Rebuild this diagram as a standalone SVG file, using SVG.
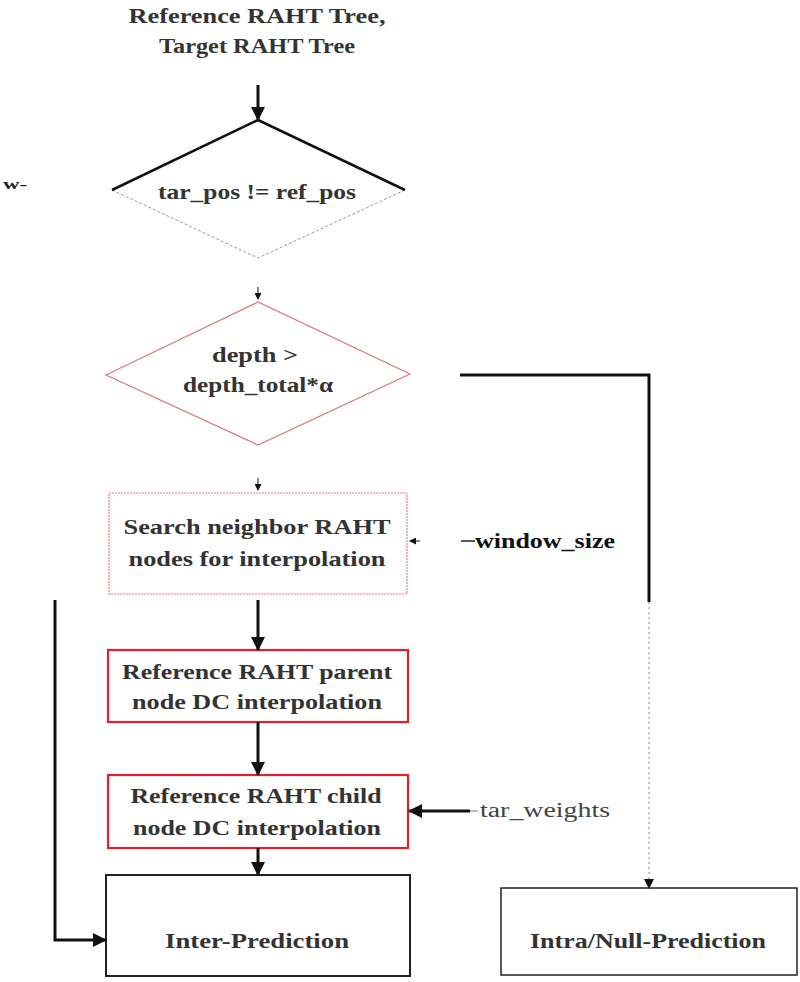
<svg xmlns="http://www.w3.org/2000/svg" width="800" height="982" viewBox="0 0 800 982">
<style>
.t{font-family:"Liberation Serif","Times New Roman",serif;font-weight:bold;font-size:21px;fill:#333;text-anchor:middle}
.thin{font-family:"Liberation Serif","Times New Roman",serif;font-size:20px;fill:#444}
.k{stroke:#111;stroke-width:3;fill:none}
.box{fill:#fff}
</style>
<defs>
<marker id="ah" markerWidth="10" markerHeight="10" refX="9" refY="5" orient="auto" markerUnits="userSpaceOnUse"><path d="M0,0 L10,5 L0,10 Z" fill="#111"/></marker>
<marker id="ahs" markerWidth="7" markerHeight="7" refX="6" refY="3.5" orient="auto" markerUnits="userSpaceOnUse"><path d="M0,0 L7,3.5 L0,7 Z" fill="#111"/></marker>
<marker id="ahb" markerWidth="14" markerHeight="14" refX="13" refY="7" orient="auto" markerUnits="userSpaceOnUse"><path d="M0,0 L14,7 L0,14 Z" fill="#111"/></marker>
</defs>
<rect width="800" height="982" fill="#fff"/>

<g id="title">
<text class="t" x="257" y="23" textLength="257" lengthAdjust="spacingAndGlyphs">Reference RAHT Tree,</text>
<text class="t" x="257" y="53" textLength="196" lengthAdjust="spacingAndGlyphs">Target RAHT Tree</text>
</g>

<g id="stray"><text x="3" y="189" font-family="Liberation Serif,serif" font-weight="bold" font-size="15" fill="#222" textLength="24" lengthAdjust="spacingAndGlyphs">w-</text></g>

<g id="cond1">
<path d="M112,190 L258,258 L405,190" fill="none" stroke="#999" stroke-width="1" stroke-dasharray="3,2"/>
<path d="M112,190 L258,120 L405,190" fill="none" stroke="#111" stroke-width="2.5"/>
<text class="t" x="257" y="199" textLength="198" lengthAdjust="spacingAndGlyphs">tar_pos != ref_pos</text>
</g>

<g id="cond2">
<path d="M106,375 L258,302 L410,374 L258,445 Z" fill="#fff" stroke="#e07a80" stroke-width="1.3"/>
<text class="t" x="255" y="362" textLength="86" lengthAdjust="spacingAndGlyphs">depth &gt;</text>
<text class="t" x="258" y="392" textLength="150" lengthAdjust="spacingAndGlyphs">depth_total*α</text>
</g>

<g id="search">
<rect x="109" y="493" width="298" height="101" class="box" stroke="#e87a80" stroke-width="1.2" stroke-dasharray="2,1"/>
<text class="t" x="257" y="534" textLength="267" lengthAdjust="spacingAndGlyphs">Search neighbor RAHT</text>
<text class="t" x="257" y="566" textLength="257" lengthAdjust="spacingAndGlyphs">nodes for interpolation</text>
</g>

<g id="parent">
<rect x="108" y="650" width="300" height="72" class="box" stroke="#e0202a" stroke-width="2.2"/>
<text class="t" x="257" y="679" textLength="270" lengthAdjust="spacingAndGlyphs">Reference RAHT parent</text>
<text class="t" x="257" y="709" textLength="250" lengthAdjust="spacingAndGlyphs">node DC interpolation</text>
</g>

<g id="child">
<rect x="108" y="775" width="300" height="73" class="box" stroke="#e0202a" stroke-width="2.2"/>
<text class="t" x="256" y="803" textLength="251" lengthAdjust="spacingAndGlyphs">Reference RAHT child</text>
<text class="t" x="257" y="835" textLength="248" lengthAdjust="spacingAndGlyphs">node DC interpolation</text>
</g>

<g id="inter">
<rect x="106" y="875" width="304" height="101" class="box" stroke="#222" stroke-width="2"/>
<text class="t" x="257" y="948" textLength="184" lengthAdjust="spacingAndGlyphs">Inter-Prediction</text>
</g>

<g id="intra">
<rect x="501" y="888" width="296" height="87" class="box" stroke="#222" stroke-width="1.5"/>
<text class="t" x="648" y="948" textLength="236" lengthAdjust="spacingAndGlyphs">Intra/Null-Prediction</text>
</g>

<g id="window_size">
<line x1="461" y1="541" x2="475" y2="541" stroke="#222" stroke-width="1.5"/>
<text x="475" y="548" font-family="Liberation Serif,serif" font-weight="bold" font-size="21" fill="#111" textLength="140" lengthAdjust="spacingAndGlyphs">window_size</text>
</g>

<g id="tar_weights">
<text class="thin" x="480" y="817" textLength="130" lengthAdjust="spacingAndGlyphs">tar_weights</text>
</g>

<g id="connectors">
<line x1="258" y1="85" x2="258" y2="120" class="k" marker-end="url(#ahb)"/>
<line x1="258" y1="287" x2="258" y2="299" stroke="#111" stroke-width="1" marker-end="url(#ahs)"/>
<line x1="258" y1="478" x2="258" y2="490" stroke="#111" stroke-width="1" marker-end="url(#ahs)"/>
<line x1="258" y1="600" x2="258" y2="650" class="k" marker-end="url(#ahb)"/>
<line x1="258" y1="722" x2="258" y2="775" class="k" marker-end="url(#ahb)"/>
<line x1="258" y1="848" x2="258" y2="875" class="k" marker-end="url(#ahb)"/>
<polyline points="55,600 55,940 106,940" class="k" marker-end="url(#ahb)"/>
<polyline points="460,375 649,375 649,602" class="k"/>
<line x1="649" y1="602" x2="649" y2="888" stroke="#888" stroke-width="1" stroke-dasharray="2,3" marker-end="url(#ah)"/>
<line x1="420" y1="541" x2="410" y2="541" stroke="#111" stroke-width="1" marker-end="url(#ahs)"/>
<line x1="478" y1="811" x2="470" y2="811" stroke="#777" stroke-width="1"/>
<line x1="470" y1="811" x2="409" y2="811" class="k" marker-end="url(#ahb)"/>
</g>
</svg>
